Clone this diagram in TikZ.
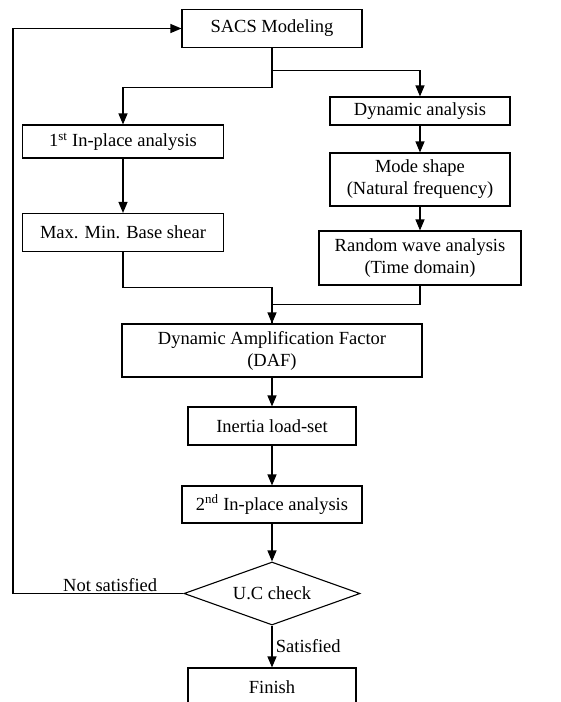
\documentclass[tikz,border=0pt]{standalone}
\usepackage{fontspec}
\setmainfont{Liberation Serif}
\usetikzlibrary{arrows.meta,positioning,shapes.geometric}

\begin{document}
\begin{tikzpicture}[x=1pt,y=-1pt,>={Triangle[length=11pt,width=9pt]},line width=1.1pt,
		font=\fontsize{18.5}{22}\selectfont,
		box/.style={draw,rectangle,inner sep=0pt,align=center},
		decision/.style={draw,diamond,aspect=2.8,minimum width=176pt,minimum height=63pt,inner sep=0pt}]
		\useasboundingbox (0,0) rectangle (561,702);
		% left branch and right branch
		\node[box,minimum width=180pt,minimum height=38pt] (sacs) at (272,28.5) {SACS Modeling};
		\node[box,minimum width=201pt,minimum height=33pt] (ip1) at (123,141.5) {1\textsuperscript{st} In-place analysis};
		\node[box,minimum width=201pt,minimum height=38pt] (maxmin) at (123,232.5) {Max. Min. Base shear};
		\node[box,minimum width=180pt,minimum height=28pt] (dyn) at (420,111) {Dynamic analysis};
		\node[box,minimum width=180pt,minimum height=53pt] (mode) at (420,179.5) {Mode shape\\(Natural frequency)};
		\node[box,minimum width=202pt,minimum height=54pt] (random) at (420,258) {Random wave analysis\\(Time domain)};
		% main column
		\node[box,minimum width=300pt,minimum height=53pt] (daf) at (272,350.5) {Dynamic Amplification Factor\\(DAF)};
		\node[box,minimum width=168pt,minimum height=38pt] (inertia) at (272,426) {Inertia load-set};
		\node[box,minimum width=180pt,minimum height=37pt] (ip2) at (272,504.5) {2\textsuperscript{nd} In-place analysis};
		\node[decision] (check) at (272,593.5) {U.C check};
		\node[box,minimum width=168pt,minimum height=38pt] (finish) at (272,687) {Finish};
		\coordinate (back) at (13,0);

		\draw[->] (sacs.south) -- ++(0,22) coordinate (fork) -| (dyn.north);
		\draw[->] (fork) -- ++(0,17) -| (ip1.north);
		\draw[->] (ip1) -- (maxmin);
		\draw[->] (dyn) -- (mode);
		\draw[->] (mode) -- (random);
		\draw[->] (maxmin.south) -- ++(0,35) -| (daf.north);
		\draw (random.south) -- ++(0,19) -| (daf.north);
		\draw[->] (daf) -- (inertia);
		\draw[->] (inertia) -- (ip2);
		\draw[->] (ip2) -- (check);
		\draw[->] (check) -- node[right] {Satisfied} (finish);
		\draw[->] (check.west) -- node[above,pos=0.43,inner sep=1pt] {Not satisfied} (check.west -| back) |- (sacs.west);
	\end{tikzpicture}
\end{document}
